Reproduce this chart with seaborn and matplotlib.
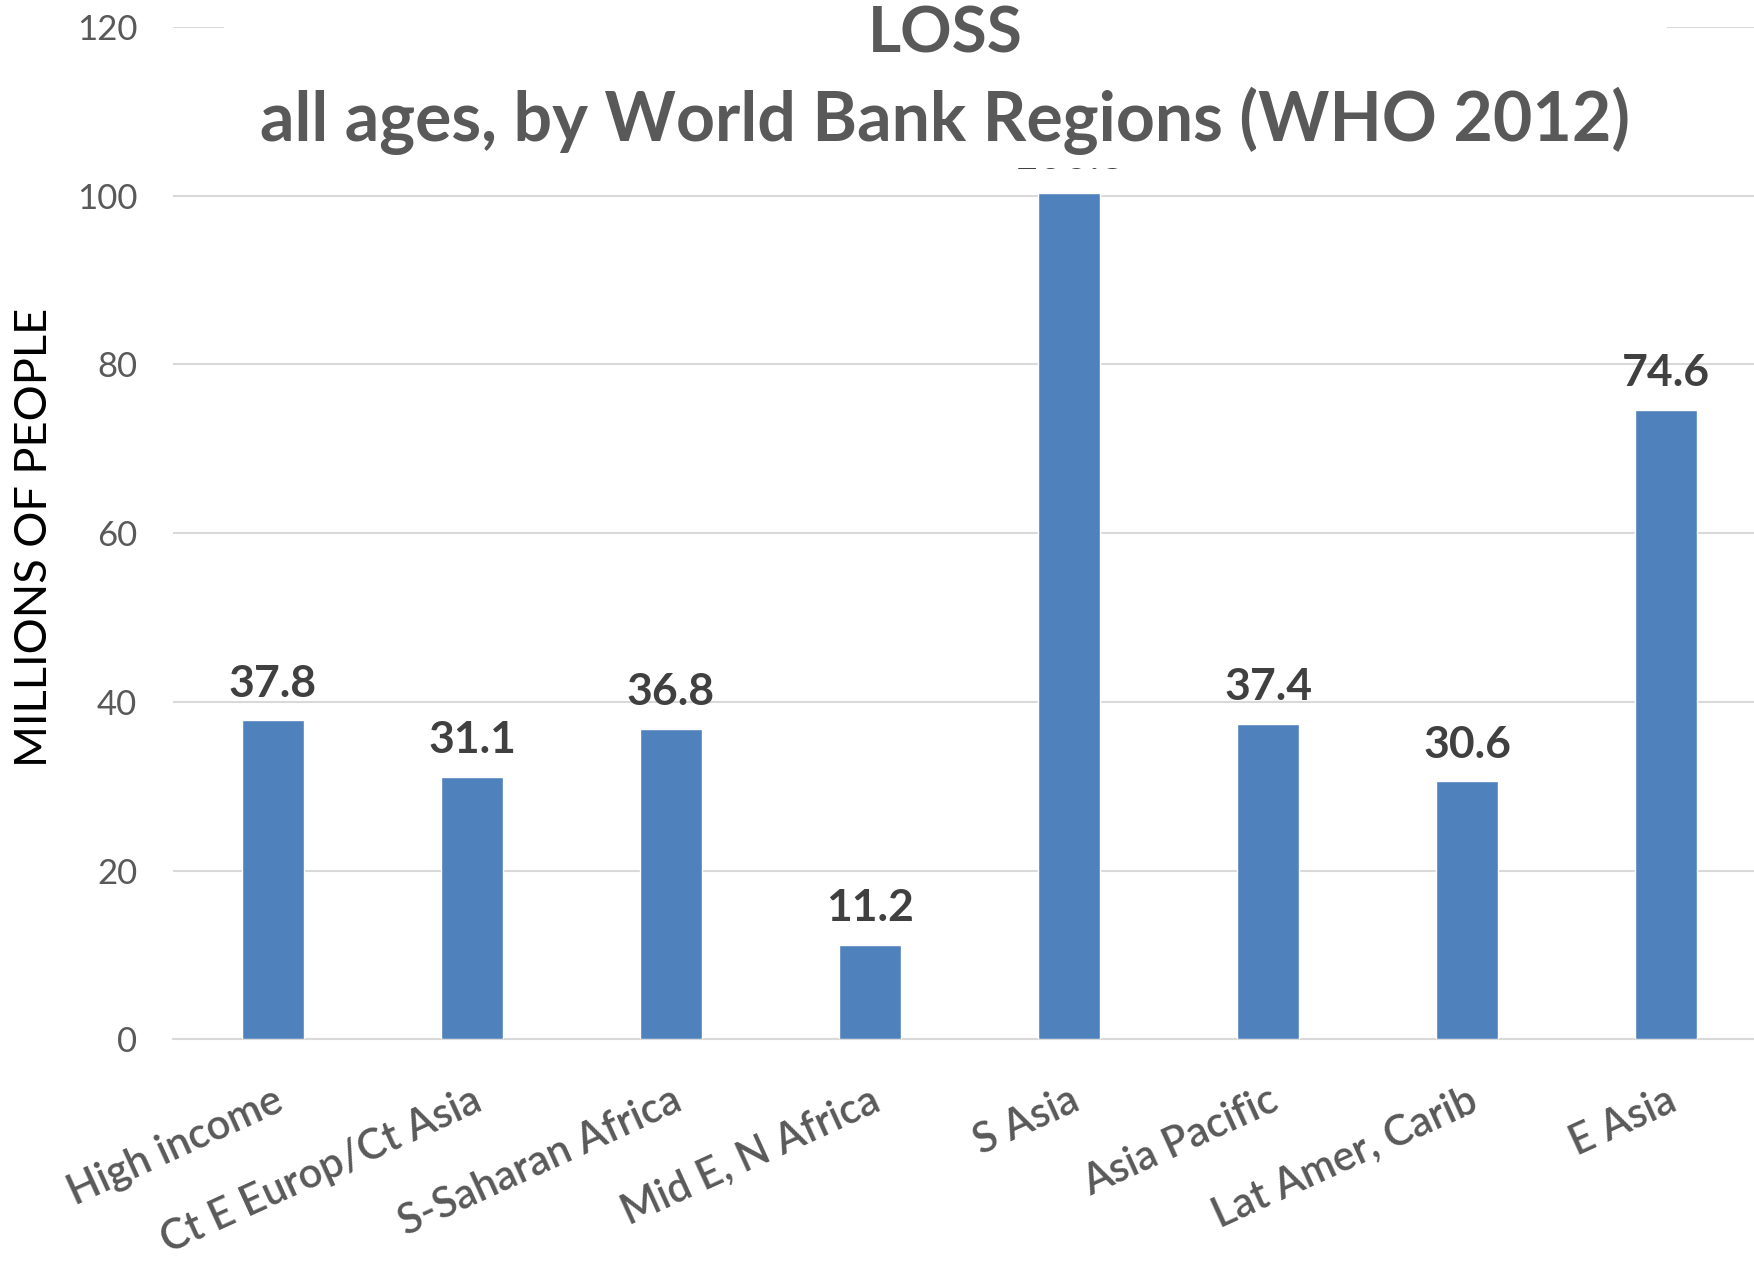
import matplotlib
matplotlib.use("Agg")
import matplotlib.pyplot as plt
import seaborn as sns
import pandas as pd
from matplotlib.patches import Rectangle

categories = ["High income", "Ct E Europ/Ct Asia", "S-Saharan Africa", "Mid E, N Africa",
              "S Asia", "Asia Pacific", "Lat Amer, Carib", "E Asia"]
values = [37.8, 31.1, 36.8, 11.2, 100.3, 37.4, 30.6, 74.6]
yticks = [0, 20, 40, 60, 80, 100, 120]
title_line1 = "LOSS"
title_line2 = "all ages, by World Bank Regions (WHO 2012)"
ylabel = "MILLIONS OF PEOPLE"

sns.set_theme(style="white")
plt.rcParams['font.family'] = ['Lato', 'DejaVu Sans']

df = pd.DataFrame({"region": categories, "value": values})

fig = plt.figure(figsize=(17.54, 12.61), dpi=100)
ax = fig.add_axes([155/1568, 1 - 929/1127, 1 - 155/1568, (929 - 24)/1127])

sns.barplot(data=df, x="region", y="value", color="#4F81BD", saturation=1,
            width=0.31, ax=ax, zorder=3)

ax.set_ylim(0, 120)
ax.set_xlim(-0.5, 7.5 - 10.5/178)
ax.set_yticks(yticks)
ax.yaxis.grid(True, color="#D9D9D9", linewidth=1.5, zorder=0)
ax.set_axisbelow(True)
for s in ["top", "right", "left"]:
    ax.spines[s].set_visible(False)
ax.spines["bottom"].set_color("#D9D9D9")
ax.spines["bottom"].set_linewidth(1.5)
ax.tick_params(axis="both", length=0)
ax.tick_params(axis="y", pad=26, labelsize=25, labelcolor="#595959")
ax.set_xlabel("")
ax.set_ylabel("")
fig.text(31/1568, 1 - 480.5/1127, ylabel, rotation=90, ha="center", va="center",
         fontsize=32.5, color="black")

ax.set_xticks(range(len(categories)))
ax.set_xticklabels(categories, rotation=24.5, ha="right", rotation_mode="anchor",
                   fontsize=30, color="#595959", fontweight="semibold")
ax.tick_params(axis="x", pad=30)

ax.bar_label(ax.containers[0], labels=[f"{v:.1f}" for v in values], padding=12,
             fontsize=32, fontweight="bold", color="#404040")

# title box (white background covering the plot area)
box = Rectangle((200/1568, 1 - 150/1127), (1490 - 200)/1568, 150/1127,
                transform=fig.transFigure, facecolor="white", edgecolor="none", zorder=5)
fig.patches.append(box)
fig.text(845/1568, 1 - 30/1127, title_line1, ha="center", va="center", fontsize=46,
         fontweight="bold", color="#595959", zorder=6)
fig.text(845/1568, 1 - 108/1127, title_line2, ha="center", va="center", fontsize=49,
         fontweight="bold", color="#595959", zorder=6)

fig.savefig("out.png", dpi=100)
